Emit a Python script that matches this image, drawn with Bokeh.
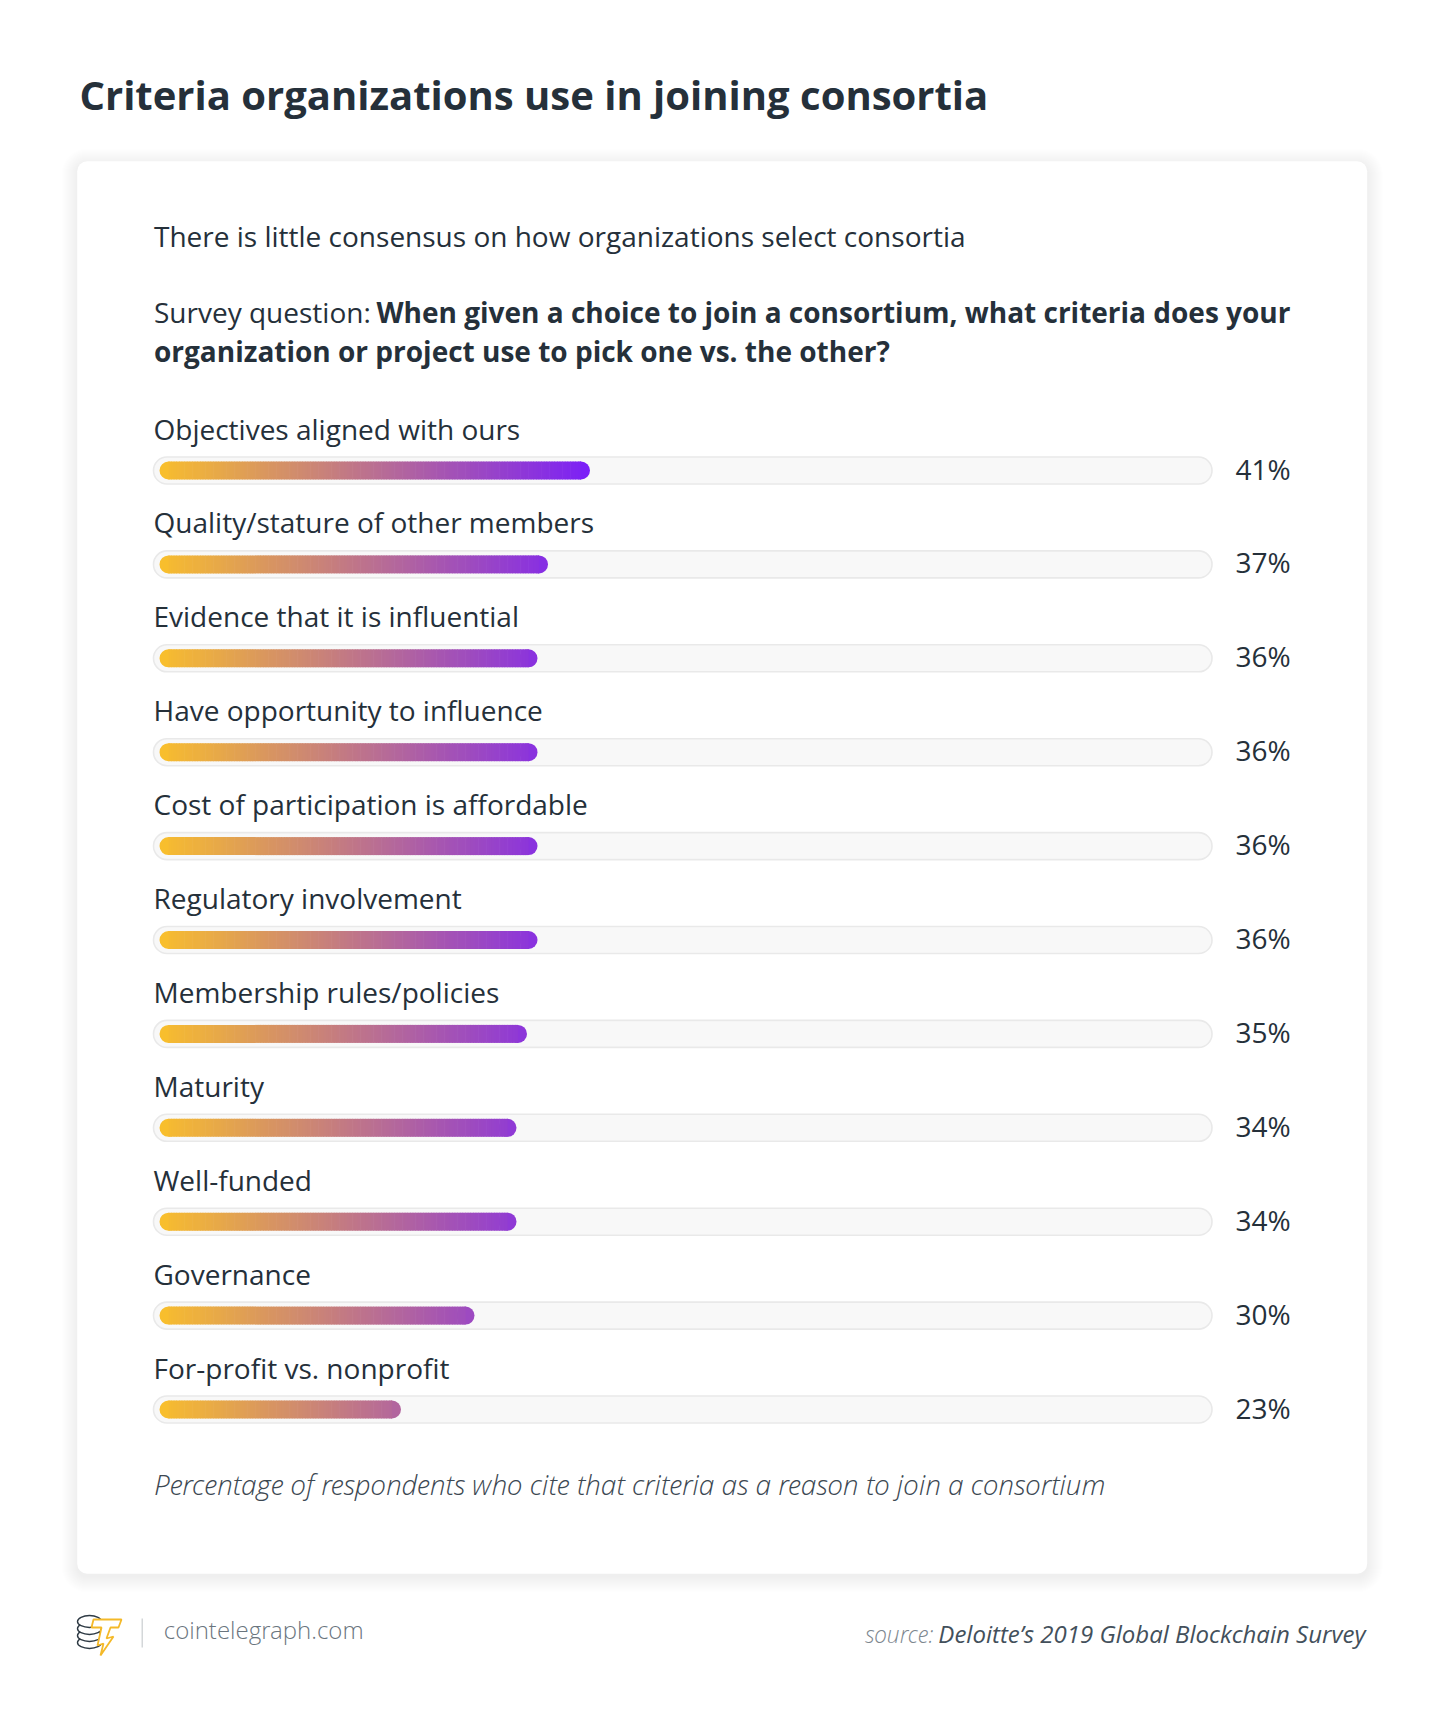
import numpy as np
from bokeh.plotting import figure
from bokeh.models import Range1d, ColumnDataSource
from bokeh.core.properties import value
from bokeh.embed import file_html
from bokeh.resources import INLINE

# ---------------- data ----------------
title = "Criteria organizations use in joining consortia"
subtitle = "There is little consensus on how organizations select consortia"
question_lead = "Survey question:"
question_line1 = "When given a choice to join a consortium, what criteria does your"
question_line2 = "organization or project use to pick one vs. the other?"
categories = [
    "Objectives aligned with ours",
    "Quality/stature of other members",
    "Evidence that it is influential",
    "Have opportunity to influence",
    "Cost of participation is affordable",
    "Regulatory involvement",
    "Membership rules/policies",
    "Maturity",
    "Well-funded",
    "Governance",
    "For-profit vs. nonprofit",
]
values = [41, 37, 36, 36, 36, 36, 35, 34, 34, 30, 23]
value_labels = [f"{v}%" for v in values]
footnote = "Percentage of respondents who cite that criteria as a reason to join a consortium"
brand = "cointelegraph.com"
source_lead = "source:"
source_text = "Deloitte\u2019s 2019 Global Blockchain Survey"

# ---------------- geometry / style ----------------
W, H = 1434, 1709
OFF = 0
PX_PER_PCT = 10.5
X0 = 159 - OFF
ROW0 = 470 - OFF
ROW_STEP = 93.9
BASE_FIX = 0.41   # empirical baseline correction (fraction of font size)

def X(px):
    return (px - OFF - X0) / PX_PER_PCT

def Y(py):
    return (py - OFF - ROW0) / ROW_STEP

def U(pxlen):  # vertical pixel length -> row units
    return pxlen / ROW_STEP

FONT = value("Open Sans")
LIGHT = value("Open Sans Light, Open Sans")
DARK = "#25303a"
C0 = np.array([248, 190, 45])
C1 = np.array([123, 31, 247])
GRAD_SPAN = max(values)

def grad(x):
    t = min(max(x / GRAD_SPAN, 0.0), 1.0)
    c = C0 + (C1 - C0) * t
    return "#%02x%02x%02x" % tuple(int(round(k)) for k in c)

p = figure(width=W, height=H,
           x_range=Range1d(X(OFF), X(OFF + W)),
           y_range=Range1d(Y(OFF + H), Y(OFF)),
           output_backend="svg", toolbar_location=None,
           x_axis_location=None, y_axis_location=None,
           min_border=0, min_border_left=0, min_border_right=0,
           min_border_top=0, min_border_bottom=0,
           background_fill_color="white", border_fill_color="white",
           outline_line_color=None)
p.grid.visible = False

# ---------------- card with soft shadow ----------------
cl, cr, ct, cb = 76.7, 1366.7, 160.7, 1573.3
for k in range(16, 0, -1):
    p.quad(left=[X(cl - k)], right=[X(cr + k)], top=[Y(ct - k + 3)], bottom=[Y(cb + k + 3)],
           fill_color="black", fill_alpha=0.0040, line_color=None, border_radius=10 + k)
p.quad(left=[X(cl)], right=[X(cr)], top=[Y(ct)], bottom=[Y(cb)],
       fill_color="white", line_color=None, border_radius=10)

# ---------------- header texts ----------------
def txt(x, ypx, s, size, color=DARK, style="normal", font=FONT, align="left"):
    p.text(x=[x], y=[Y(ypx - BASE_FIX * size)], text=[s], text_font=font,
           text_font_size=value(f"{size}px"),
           text_font_style=style, text_color=color, text_align=align,
           text_baseline="alphabetic")

txt(X(79), 110.7, title, 40, style="bold")
txt(X(153.5), 247.3, subtitle, 28)
txt(X(153.5), 323.3, question_lead, 28)
txt(X(376), 323.3, question_line1, 28, style="bold")
txt(X(153.5), 361.7, question_line2, 28, style="bold")

# ---------------- bars ----------------
rows = list(range(len(categories)))
PAD_L = 6 / PX_PER_PCT
PAD_R = 2.5 / PX_PER_PCT
p.hbar(y=rows, left=-PAD_L, right=100 + PAD_R, height=U(27),
       fill_color="#f8f8f8", line_color="#e9e9e9", line_width=1.6, border_radius=14)

R = 9 / PX_PER_PCT
BAR_H = U(18)
cap_src = ColumnDataSource(dict(
    y=rows + rows,
    left=[0.0] * len(values) + [v - 2 * R for v in values],
    right=[2 * R] * len(values) + list(values),
    color=[grad(0)] * len(values) + [grad(v) for v in values],
))
p.hbar(y="y", left="left", right="right", height=BAR_H, fill_color="color",
       line_color=None, border_radius=9, source=cap_src)

step = 0.25
sy, sl, sr, sc = [], [], [], []
for i, v in enumerate(values):
    a = R
    while a < v - R:
        b = min(a + step, v - R)
        sy.append(i); sl.append(a); sr.append(min(b + 0.06, v - R)); sc.append(grad((a + b) / 2))
        a = b
p.hbar(y="y", left="left", right="right", height=BAR_H, fill_color="color", line_color=None,
       source=ColumnDataSource(dict(y=sy, left=sl, right=sr, color=sc)))

LAB_SIZE = 28
lab_src = ColumnDataSource(dict(x=[-PAD_L] * len(rows),
                                y=[r - U(30.5 + BASE_FIX * LAB_SIZE) for r in rows], text=categories))
p.text(x="x", y="y", text="text", source=lab_src, text_font=FONT, text_font_size=value(f"{LAB_SIZE}px"),
       text_color=DARK, text_baseline="alphabetic", text_align="left")

PCT_X = 100 + PAD_R + 23.5 / PX_PER_PCT
pct_src = ColumnDataSource(dict(x=[PCT_X] * len(rows),
                                y=[r + U(9.5 - BASE_FIX * 28) for r in rows], text=value_labels))
p.text(x="x", y="y", text="text", source=pct_src, text_font=FONT, text_font_size=value("28px"),
       text_color=DARK, text_baseline="alphabetic", text_align="left")

# ---------------- footnote & footer ----------------
txt(X(153.5), 1495, footnote, 28, color="#3c4852", style="italic", font=LIGHT)
txt(X(163.3), 1639.3, brand, 24, color="#6a757e", font=LIGHT)
txt(X(1365), 1643, source_text, 24, color="#43505b", style="italic", align="right")
txt(X(933), 1643, source_lead, 23, color="#7d878f", style="italic", font=LIGHT, align="right")

# logo: coin stack + lightning T
for cy in [1642, 1635, 1628, 1621]:
    p.ellipse(x=[X(89)], y=[Y(cy)], width=24, height=12, width_units="screen", height_units="screen",
              fill_color="white", line_color="#2e3a44", line_width=1.4)
bolt_px = [(93, 1619), (121, 1619), (118, 1627), (110, 1627), (106, 1638), (113, 1636),
           (100, 1655), (103, 1643), (97, 1645), (101, 1627), (91, 1627)]
p.patch(x=[X(a) for a, b in bolt_px], y=[Y(b) for a, b in bolt_px],
        fill_color="white", line_color="#f4b929", line_width=1.8)
p.segment(x0=[X(141.7)], y0=[Y(1618)], x1=[X(141.7)], y1=[Y(1647)], line_color="#c9cdd0", line_width=1.2)

open("out.html", "w").write(file_html(p, INLINE))
